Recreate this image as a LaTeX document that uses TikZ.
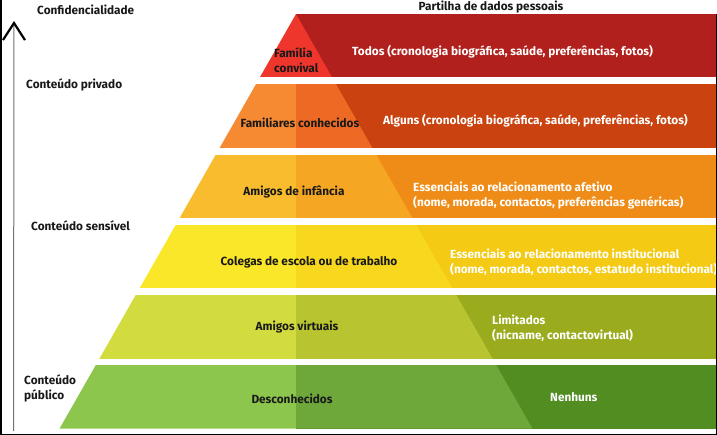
\documentclass[tikz,border=0pt]{standalone}
\usepackage{fontspec}
\setmainfont{Fira Sans}
\usepackage{tikz}
\usetikzlibrary{arrows.meta,positioning}
\usepackage{xcolor}
\definecolor{redlight}{RGB}{238,54,44}
\definecolor{reddark}{RGB}{177,32,28}
\definecolor{orangelight}{RGB}{245,138,50}
\definecolor{orangemid}{RGB}{238,106,36}
\definecolor{orangedark}{RGB}{201,66,15}
\definecolor{amberlight}{RGB}{248,188,46}
\definecolor{ambermid}{RGB}{245,166,35}
\definecolor{amberdark}{RGB}{239,140,24}
\definecolor{yellowlight}{RGB}{251,231,42}
\definecolor{yellowmid}{RGB}{248,216,30}
\definecolor{yellowdark}{RGB}{244,202,20}
\definecolor{limelight}{RGB}{211,220,62}
\definecolor{limemid}{RGB}{184,197,48}
\definecolor{limedark}{RGB}{155,171,30}
\definecolor{greenlight}{RGB}{140,198,76}
\definecolor{greenmid}{RGB}{110,167,58}
\definecolor{greendark}{RGB}{82,141,34}

\begin{document}
\begin{tikzpicture}[x=1pt, y=-1pt, font=\bfseries\fontsize{11.8}{15}\selectfont,
  every node/.style={inner sep=0pt},
  tier/.style={text=black!90, align=center},
  share/.style={text=white, align=left, anchor=west},
  side/.style={text=black!90, align=left, anchor=west}]
  \useasboundingbox (0,0) rectangle (717,435);
  \fill[white] (0,0) rectangle (717,435);

  \fill[reddark]    (296,14)   rectangle (717,77.5);
  \fill[orangedark] (296,84.5) rectangle (717,148);
  \fill[amberdark]  (296,155)  rectangle (717,218.5);
  \fill[yellowdark] (296,225)  rectangle (717,288.5);
  \fill[limedark]   (296,295)  rectangle (717,358.5);
  \fill[greendark]  (296,365)  rectangle (717,428.5);

  \begin{scope}
    \clip (296,14) -- (59.6,428.5) -- (532.4,428.5) -- cycle;
    \fill[redlight]    (0,14)   rectangle (717,77.5);
    \fill[orangelight] (0,84.5) rectangle (296,148);
    \fill[orangemid]   (296,84.5) rectangle (717,148);
    \fill[amberlight]  (0,155)  rectangle (296,218.5);
    \fill[ambermid]    (296,155)  rectangle (717,218.5);
    \fill[yellowlight] (0,225)  rectangle (296,288.5);
    \fill[yellowmid]   (296,225)  rectangle (717,288.5);
    \fill[limelight]   (0,295)  rectangle (296,358.5);
    \fill[limemid]     (296,295)  rectangle (717,358.5);
    \fill[greenlight]  (0,365)  rectangle (296,428.5);
    \fill[greenmid]    (296,365)  rectangle (717,428.5);
  \end{scope}

  \node[side] (conf) at (37,10)  {Confidencialidade};
  \node[side] (priv) at (26,85)  {Conteúdo privado};
  \node[side] (sens) at (31,226) {Conteúdo sensível};
  \node[side] (publ) at (24,388) {Conteúdo\\público};
  \node[tier] (partilha) at (491,7) {Partilha de dados pessoais};

  \node[side]  (familia) at (274,60) {Família\\convival};
  \node[share] (todos) at (352,52) {Todos (cronologia biográfica, saúde, preferências, fotos)};
  \node[tier]  (familiares) at (300,123) {Familiares conhecidos};
  \node[share] (alguns) at (383,121) {Alguns (cronologia biográfica, saúde, preferências, fotos)};
  \node[tier]  (infancia) at (294,192) {Amigos de infância};
  \node[share] (afetivo) at (413,195.5) {Essenciais ao relacionamento afetivo\\(nome, morada, contactos, preferências genéricas)};
  \node[tier]  (colegas) at (309,262) {Colegas de escola ou de trabalho};
  \node[share] (institucional) at (450,262.5) {Essenciais ao relacionamento institucional\\(nome, morada, contactos, estatudo institucional)};
  \node[tier]  (virtuais) at (297,327) {Amigos virtuais};
  \node[share] (limitados) at (492,328) {Limitados\\(nicname, contactovirtual)};
  \node[tier]  (desconhecidos) at (292,399) {Desconhecidos};
  \node[share] (nenhuns) at (550,397) {Nenhuns};

  \coordinate (axisfoot) at (13.5,431);
  \coordinate (axistop)  at (14,21);
  \draw[black!55, line width=1pt, -{Straight Barb[length=17pt,width=22pt,line width=2.2pt,black]}] (axisfoot) -- (axistop);

  \draw[black, line width=1.5pt] (0.75,0) -- (0.75,434.25) -- (716.25,434.25) -- (716.25,14);
\end{tikzpicture}
\end{document}
